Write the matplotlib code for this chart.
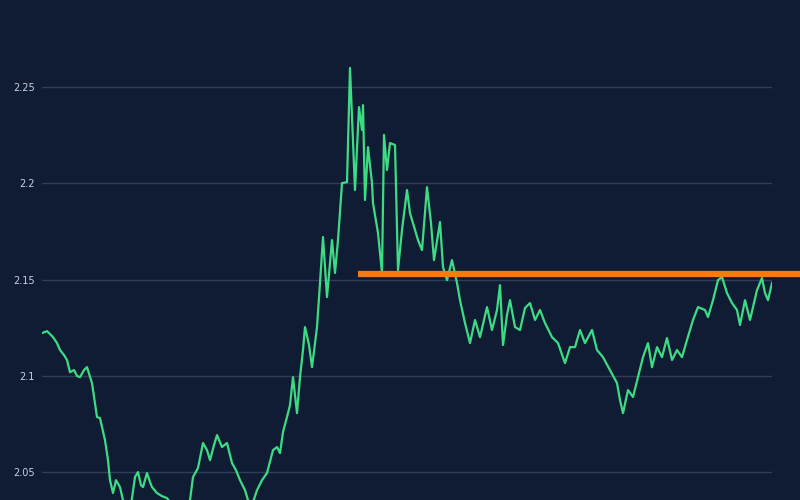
import matplotlib.pyplot as plt
from matplotlib.ticker import FuncFormatter

# price series (day index, value)
days = [0, 5, 8, 11, 15, 18, 22, 25, 28, 32, 35, 38, 42, 45, 50, 55, 58, 63, 66, 68,
        71, 74, 78, 81, 85, 89, 93, 96, 99, 101, 105, 108, 110, 115, 120, 125, 130, 136, 142, 148,
        151, 156, 161, 165, 168, 172, 175, 180, 185, 190, 194, 198, 203, 206, 210, 215, 220, 225, 231, 235,
        238, 241, 246, 248, 251, 255, 258, 261, 263, 267, 270, 275, 278, 281, 285, 290, 293, 296, 300, 305,
        308, 313, 317, 320, 321, 323, 326, 330, 331, 336, 340, 342, 345, 348, 353, 356, 360, 365, 368, 373,
        376, 380, 385, 389, 392, 398, 401, 405, 410, 415, 418, 423, 428, 433, 438, 445, 450, 455, 458, 461,
        465, 468, 473, 478, 483, 488, 493, 498, 503, 510, 516, 523, 528, 533, 538, 543, 550, 555, 561, 568,
        575, 578, 581, 586, 591, 596, 601, 606, 610, 615, 620, 625, 630, 635, 640, 645, 651, 656, 663, 666,
        671, 676, 680, 685, 690, 695, 698, 703, 708, 715, 720, 723, 726, 730]
price = [2.1222, 2.1232, 2.1217, 2.1201, 2.1170, 2.1134, 2.1108, 2.1082, 2.1019, 2.1030,
         2.0999, 2.0993, 2.1030, 2.1045, 2.0962, 2.0786, 2.0780, 2.0666, 2.0562, 2.0458,
         2.0391, 2.0458, 2.0422, 2.0354, 2.0303, 2.0328, 2.0474, 2.0500, 2.0432, 2.0422,
         2.0495, 2.0448, 2.0422, 2.0391, 2.0375, 2.0365, 2.0328, 2.0303, 2.0313, 2.0354,
         2.0474, 2.0521, 2.0651, 2.0614, 2.0562, 2.0640, 2.0692, 2.0630, 2.0651, 2.0547,
         2.0510, 2.0458, 2.0406, 2.0354, 2.0328, 2.0406, 2.0458, 2.0495, 2.0614, 2.0630,
         2.0599, 2.0708, 2.0806, 2.0848, 2.0993, 2.0806, 2.0993, 2.1134, 2.1253, 2.1160,
         2.1045, 2.1253, 2.1482, 2.1721, 2.1409, 2.1705, 2.1534, 2.1705, 2.2001, 2.2006,
         2.2599, 2.1965, 2.2396, 2.2277, 2.2406, 2.1913, 2.2188, 2.2001, 2.1897, 2.1742,
         2.1534, 2.2251, 2.2069, 2.2209, 2.2199, 2.1549, 2.1757, 2.1965, 2.1845, 2.1757,
         2.1705, 2.1653, 2.1980, 2.1793, 2.1601, 2.1799, 2.1565, 2.1497, 2.1601, 2.1482,
         2.1393, 2.1274, 2.1170, 2.1290, 2.1201, 2.1357, 2.1238, 2.1342, 2.1471, 2.1160,
         2.1316, 2.1393, 2.1253, 2.1238, 2.1352, 2.1378, 2.1290, 2.1342, 2.1274, 2.1201,
         2.1170, 2.1066, 2.1149, 2.1149, 2.1238, 2.1170, 2.1238, 2.1134, 2.1097, 2.1030,
         2.0962, 2.0874, 2.0806, 2.0926, 2.0890, 2.0993, 2.1097, 2.1170, 2.1045, 2.1149,
         2.1097, 2.1196, 2.1082, 2.1134, 2.1097, 2.1186, 2.1290, 2.1357, 2.1342, 2.1305,
         2.1393, 2.1497, 2.1513, 2.1430, 2.1378, 2.1342, 2.1264, 2.1393, 2.1290, 2.1445,
         2.1508, 2.1430, 2.1393, 2.1482]

resistance = 2.153
res_start, res_end = 316, 758
yticks = [2.05, 2.1, 2.15, 2.2, 2.25]

bg = "#101c33"
fig = plt.figure(figsize=(8, 5), dpi=100, facecolor=bg)
ax = fig.add_axes([42 / 800, 0, 730 / 800, 1])
ax.set_facecolor(bg)

ax.plot(days, price, color="#3ddc84", lw=1.6, zorder=3)
ax.plot([res_start, res_end], [resistance, resistance], color="#f47b1a",
        lw=4.5, solid_capstyle="butt", clip_on=False, zorder=4)

ax.set_xlim(0, 730)
ax.set_ylim(2.0355, 2.2952)
ax.set_yticks(yticks)
ax.yaxis.set_major_formatter(FuncFormatter(lambda v, p: "{:g}".format(v)))
ax.set_xticks([])
ax.tick_params(axis="y", length=0, pad=5, labelsize=7, labelcolor="#c9d1de")
ax.grid(axis="y", color="#2f3d58", lw=1)
for s in ax.spines.values():
    s.set_visible(False)

fig.savefig("out.png", dpi=100, facecolor=bg)
